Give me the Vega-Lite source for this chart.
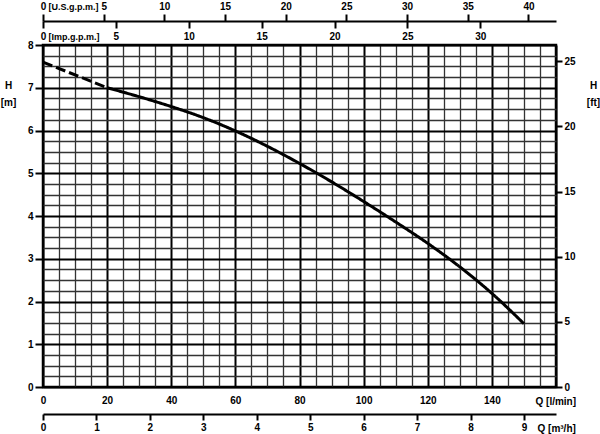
{
  "$schema": "https://vega.github.io/schema/vega-lite/v6.json",
  "width": 513,
  "height": 342,
  "autosize": "none",
  "padding": {"left": 43, "top": 45, "right": 44, "bottom": 47},
  "background": "white",
  "config": {
    "view": {"stroke": "black", "strokeWidth": 2.5},
    "font": "Liberation Sans",
    "axis": {
      "labelFont": "Liberation Sans",
      "labelFontWeight": "bold",
      "labelFontSize": 10,
      "labelColor": "black",
      "titleFont": "Liberation Sans",
      "titleFontWeight": "bold",
      "titleFontSize": 10,
      "titleColor": "black",
      "domainColor": "black",
      "domainWidth": 2,
      "tickColor": "black",
      "labelFlush": false,
      "labelOverlap": false
    }
  },
  "resolve": {"scale": {"x": "independent", "y": "independent"}},
  "layer": [
    {
      "data": {"values": [
        {"Q": 0, "H": 7.6, "seg": "dashed"},
        {"Q": 20, "H": 7.0, "seg": "dashed"},
        {"Q": 20, "H": 7.0, "seg": "solid"},
        {"Q": 30, "H": 6.79, "seg": "solid"},
        {"Q": 40, "H": 6.56, "seg": "solid"},
        {"Q": 50, "H": 6.3, "seg": "solid"},
        {"Q": 60, "H": 5.99, "seg": "solid"},
        {"Q": 70, "H": 5.63, "seg": "solid"},
        {"Q": 80, "H": 5.23, "seg": "solid"},
        {"Q": 90, "H": 4.8, "seg": "solid"},
        {"Q": 100, "H": 4.34, "seg": "solid"},
        {"Q": 110, "H": 3.86, "seg": "solid"},
        {"Q": 120, "H": 3.36, "seg": "solid"},
        {"Q": 130, "H": 2.81, "seg": "solid"},
        {"Q": 140, "H": 2.19, "seg": "solid"},
        {"Q": 150, "H": 1.48, "seg": "solid"}
      ]},
      "mark": {"type": "line", "color": "black", "strokeWidth": 3, "interpolate": "monotone"},
      "encoding": {
        "x": {
          "field": "Q", "type": "quantitative",
          "scale": {"domain": [0, 160], "nice": false, "zero": false},
          "axis": {
            "orient": "bottom",
            "values": [0,5,10,15,20,25,30,35,40,45,50,55,60,65,70,75,80,85,90,95,100,105,110,115,120,125,130,135,140,145,150,155,160],
            "grid": true,
            "gridColor": {"condition": {"test": "datum.value % 20 === 0", "value": "black"}, "value": "#333333"},
            "gridWidth": {"condition": {"test": "datum.value % 20 === 0", "value": 2}, "value": 1.3},
            "ticks": false,
            "domain": false,
            "format": "d",
            "labelExpr": "datum.value % 20 === 0 && datum.value < 160 ? datum.label : ''",
            "labelPadding": 8,
            "title": "Q [l/min]",
            "titleX": 492,
            "titleY": 14,
            "titleAlign": "left",
            "titleBaseline": "middle"
          }
        },
        "y": {
          "field": "H", "type": "quantitative",
          "scale": {"domain": [0, 8], "nice": false, "zero": false},
          "axis": {
            "orient": "left",
            "values": [0,0.25,0.5,0.75,1,1.25,1.5,1.75,2,2.25,2.5,2.75,3,3.25,3.5,3.75,4,4.25,4.5,4.75,5,5.25,5.5,5.75,6,6.25,6.5,6.75,7,7.25,7.5,7.75,8],
            "grid": true,
            "gridColor": {"condition": {"test": "datum.value % 1 === 0", "value": "black"}, "value": "#333333"},
            "gridWidth": {"condition": {"test": "datum.value % 1 === 0", "value": 2}, "value": 1.3},
            "tickSize": 8,
            "tickWidth": 2,
            "tickOpacity": {"condition": {"test": "datum.value % 1 === 0", "value": 1}, "value": 0},
            "format": "~g",
            "labelExpr": "datum.value % 1 === 0 ? datum.label : ''",
            "labelPadding": 2,
            "domain": false,
            "title": ["H", "[m]"],
            "titleAngle": 0,
            "titleX": -35,
            "titleY": 43,
            "titleAlign": "center",
            "titleBaseline": "alphabetic",
            "titleLineHeight": 17
          }
        },
        "strokeDash": {
          "field": "seg", "type": "nominal",
          "scale": {"domain": ["dashed", "solid"], "range": [[10, 4], [1, 0]]},
          "legend": null
        }
      }
    },
    {
      "data": {"values": [{"ft": 0}, {"ft": 26.2467}]},
      "mark": {"type": "point", "opacity": 0},
      "encoding": {
        "y": {
          "field": "ft", "type": "quantitative",
          "scale": {"domain": [0, 26.2467], "nice": false, "zero": false},
          "axis": {
            "orient": "right",
            "values": [0, 5, 10, 15, 20, 25],
            "format": "d",
            "tickSize": 6,
            "tickWidth": 2,
            "labelPadding": 2,
            "domain": false,
            "grid": false,
            "title": ["H", "[ft]"],
            "titleAngle": 0,
            "titleX": 37,
            "titleY": 43,
            "titleAlign": "center",
            "titleBaseline": "alphabetic",
            "titleLineHeight": 17
          }
        }
      }
    },
    {
      "data": {"values": [{"m3h": 0}, {"m3h": 9.6}]},
      "mark": {"type": "point", "opacity": 0},
      "encoding": {
        "x": {
          "field": "m3h", "type": "quantitative",
          "scale": {"domain": [0, 9.6], "nice": false, "zero": false},
          "axis": {
            "orient": "bottom",
            "offset": 27,
            "values": [0, 1, 2, 3, 4, 5, 6, 7, 8, 9],
            "format": "d",
            "tickSize": 6,
            "tickWidth": 2,
            "labelPadding": 2,
            "grid": false,
            "title": "Q [m³/h]",
            "titleX": 494,
            "titleY": 14,
            "titleAlign": "left",
            "titleBaseline": "middle"
          }
        }
      }
    },
    {
      "data": {"values": [{"usgpm": 0}, {"usgpm": 42.268}]},
      "mark": {"type": "point", "opacity": 0},
      "encoding": {
        "x": {
          "field": "usgpm", "type": "quantitative",
          "scale": {"domain": [0, 42.268], "nice": false, "zero": false},
          "axis": {
            "orient": "top",
            "offset": 24,
            "values": [0, 5, 10, 15, 20, 25, 30, 35, 40],
            "format": "d",
            "tickSize": 7,
            "tickWidth": 2,
            "labelPadding": 3,
            "grid": false,
            "title": "[U.S.g.p.m.]",
            "titleFontSize": 9,
            "titleX": 5,
            "titleY": -15,
            "titleAlign": "left",
            "titleBaseline": "middle"
          }
        }
      }
    },
    {
      "data": {"values": [{"impgpm": 0}, {"impgpm": 35.195}]},
      "mark": {"type": "point", "opacity": 0},
      "encoding": {
        "x": {
          "field": "impgpm", "type": "quantitative",
          "scale": {"domain": [0, 35.195], "nice": false, "zero": false},
          "axis": {
            "orient": "bottom",
            "offset": -366,
            "values": [0, 5, 10, 15, 20, 25, 30],
            "format": "d",
            "tickSize": 7,
            "tickWidth": 2,
            "labelPadding": 3,
            "grid": false,
            "domain": false,
            "title": "[Imp.g.p.m.]",
            "titleFontSize": 9,
            "titleX": 5,
            "titleY": 15,
            "titleAlign": "left",
            "titleBaseline": "middle"
          }
        }
      }
    }
  ]
}
